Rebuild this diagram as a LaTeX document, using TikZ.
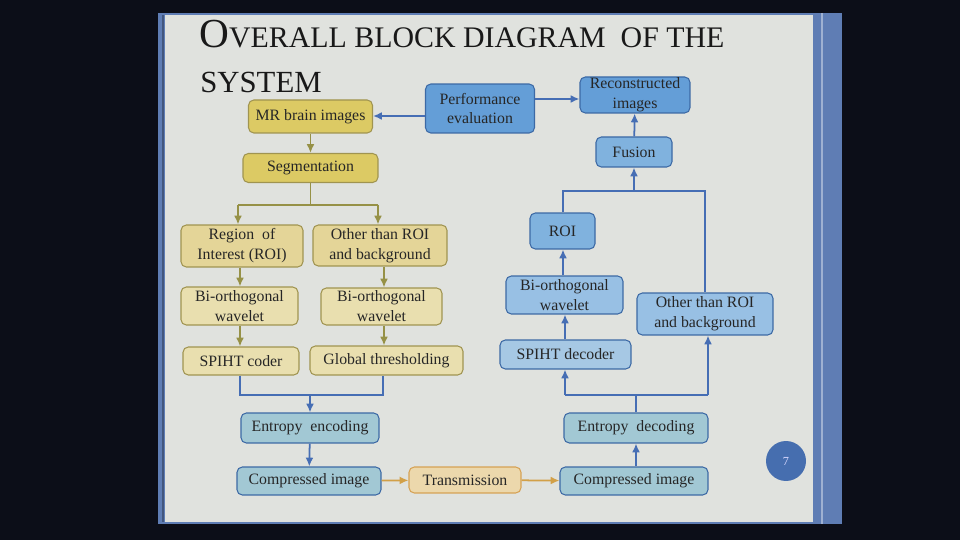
\documentclass[tikz,border=0pt]{standalone}
\usepackage{fontspec}
\setmainfont{Liberation Serif}
\usetikzlibrary{arrows.meta}
\definecolor{dark}{RGB}{12,14,24}
\definecolor{slide}{RGB}{224,226,222}
\definecolor{frameblue}{RGB}{95,125,180}
\definecolor{ystrong}{RGB}{220,202,100}
\definecolor{ytan}{RGB}{228,213,152}
\definecolor{ypale}{RGB}{233,223,175}
\definecolor{yborder}{RGB}{160,148,80}
\definecolor{bstrong}{RGB}{100,158,215}
\definecolor{bmid}{RGB}{128,178,222}
\definecolor{blight}{RGB}{152,192,228}
\definecolor{bpale}{RGB}{166,200,228}
\definecolor{bgrey}{RGB}{162,200,212}
\definecolor{bborder}{RGB}{60,105,165}
\definecolor{tfill}{RGB}{236,216,172}
\definecolor{tborder}{RGB}{214,162,84}
\definecolor{olive}{RGB}{150,145,70}
\definecolor{arrblue}{RGB}{70,110,180}
\definecolor{arrorange}{RGB}{210,160,72}
\definecolor{pagecirc}{RGB}{70,110,175}
\tikzset{
  box/.style={draw, rounded corners=3pt, line width=0.6pt, inner sep=0pt, align=center,
    font=\fontsize{9}{11.3}\selectfont, text=black!85},
  ybox/.style={box, draw=yborder},
  bbox/.style={box, draw=bborder},
  yarr/.style={draw=olive, line width=1pt, -{Latex[length=5pt,width=4.5pt]}},
  yline/.style={draw=olive, line width=1pt},
  barr/.style={draw=arrblue, line width=1pt, -{Latex[length=5pt,width=4.5pt]}},
  bline/.style={draw=arrblue, line width=1pt},
  oarr/.style={draw=arrorange, line width=1pt, -{Latex[length=5pt,width=4.5pt]}},
}
\begin{document}
\begin{tikzpicture}[x=0.02cm,y=-0.02cm]
\useasboundingbox (0,0) rectangle (960,540);
\fill[dark] (0,0) rectangle (960,540);
% slide
\fill[frameblue] (158,13) rectangle (842,524);
\fill[slide] (165,15) rectangle (813,522);
\draw[frameblue!70!black, line width=0.8pt] (163,15) -- (163,522);
\draw[frameblue!60!white, line width=1.2pt] (822,13) -- (822,524);
% title
\node[anchor=base west, inner sep=0pt, text=black!90] (title1) at (199,48)
  {{\fontsize{23.5}{26}\selectfont O}{\fontsize{17}{20}\selectfont VERALL BLOCK DIAGRAM\ \ OF THE}};
\node[anchor=base west, inner sep=0pt, text=black!90] (title2) at (200,93)
  {\fontsize{17.5}{20}\selectfont SYSTEM};
% left (yellow) column
\node[ybox, fill=ystrong, minimum width=2.48cm, minimum height=0.66cm] (mr) at (310.5,116.5) {MR brain images};
\node[ybox, fill=ystrong, minimum width=2.70cm, minimum height=0.58cm] (seg) at (310.5,168) {Segmentation};
\node[ybox, fill=ytan, minimum width=2.44cm, minimum height=0.84cm] (roiL) at (242,246) {Region\ \ of\\Interest\ (ROI)};
\node[ybox, fill=ytan, minimum width=2.68cm, minimum height=0.82cm] (othL) at (380,245.5) {Other than ROI\\and background};
\node[ybox, fill=ypale, minimum width=2.34cm, minimum height=0.76cm] (bowL) at (239.5,306) {Bi-orthogonal\\wavelet};
\node[ybox, fill=ypale, minimum width=2.42cm, minimum height=0.74cm] (bowM) at (381.5,306.5) {Bi-orthogonal\\wavelet};
\node[ybox, fill=ypale, minimum width=2.32cm, minimum height=0.56cm] (spiht) at (241,361) {SPIHT coder};
\node[ybox, fill=ypale, minimum width=3.06cm, minimum height=0.58cm] (glob) at (386.5,360.5) {Global\ thresholding};
% bottom row
\node[bbox, fill=bgrey, minimum width=2.76cm, minimum height=0.60cm] (ent) at (310,428) {Entropy\ \ encoding};
\node[bbox, fill=bgrey, minimum width=2.88cm, minimum height=0.56cm] (compL) at (309,481) {Compressed image};
\node[box, draw=tborder, fill=tfill, minimum width=2.24cm, minimum height=0.52cm] (trans) at (465,480) {Transmission};
\node[bbox, fill=bgrey, minimum width=2.96cm, minimum height=0.56cm] (compR) at (634,481) {Compressed image};
\node[bbox, fill=bgrey, minimum width=2.88cm, minimum height=0.60cm] (dec) at (636,428) {Entropy\ \ decoding};
% right (blue) column
\node[bbox, fill=bpale, minimum width=2.62cm, minimum height=0.58cm] (spihtd) at (565.5,354.5) {SPIHT decoder};
\node[bbox, fill=blight, minimum width=2.34cm, minimum height=0.76cm] (bowR) at (564.5,295) {Bi-orthogonal\\wavelet};
\node[bbox, fill=bmid, minimum width=1.30cm, minimum height=0.72cm] (roiR) at (562.5,231) {ROI};
\node[bbox, fill=blight, minimum width=2.72cm, minimum height=0.84cm] (othR) at (705,314) {Other than ROI\\and background};
\node[bbox, fill=bmid, minimum width=1.52cm, minimum height=0.60cm] (fusion) at (634,152) {Fusion};
\node[bbox, fill=bstrong, minimum width=2.18cm, minimum height=0.98cm] (perf) at (480,108.5) {Performance\\evaluation};
\node[bbox, fill=bstrong, minimum width=2.20cm, minimum height=0.72cm] (recon) at (635,95) {Reconstructed\\images};
% page number
\node[circle, fill=pagecirc, minimum size=0.8cm, inner sep=0pt, text=white!85!blue,
  font=\fontsize{7}{8}\selectfont] (page) at (786,461) {7};
% coordinates for connectors
\coordinate (sp) at (310.5,205);
\coordinate (spL) at (238,205);
\coordinate (spR) at (378,205);
\coordinate (mgL) at (240,395);
\coordinate (mgR) at (383,395);
\coordinate (mg) at (310,395);
\coordinate (dvL) at (565,395);
\coordinate (dvR) at (708,395);
\coordinate (dv) at (636,395);
\coordinate (fuL) at (563,191);
\coordinate (fuR) at (705,191);
\coordinate (fu) at (634,191);
% connectors: top
\draw[barr] (perf.west |- 0,116) -- (mr.east |- 0,116);
\draw[barr] (perf.east |- 0,99) -- (recon.west |- 0,99);
\draw[barr] (fusion) -- (recon);
% left column
\draw[yarr] (mr) -- (seg);
\draw[yline] (seg) -- (sp);
\draw[yline] (spL) -- (spR);
\draw[yarr] (spL) -- (spL |- roiL.north);
\draw[yarr] (spR) -- (spR |- othL.north);
\draw[yarr] (roiL.south -| 240,0) -- (bowL.north -| 240,0);
\draw[yarr] (othL.south -| 384,0) -- (bowM.north -| 384,0);
\draw[yarr] (bowL.south -| 240,0) -- (spiht.north -| 240,0);
\draw[yarr] (bowM.south -| 384,0) -- (glob.north -| 384,0);
% merge to entropy encoding
\draw[bline] (spiht.south -| mgL) -- (mgL) -- (mgR) -- (glob.south -| mgR);
\draw[barr] (mg) -- (ent);
\draw[barr] (ent) -- (compL);
\draw[oarr] (compL) -- (trans);
\draw[oarr] (trans) -- (compR);
\draw[barr] (compR.north -| dv) -- (dec.south -| dv);
% decoding split
\draw[bline] (dec.north -| dv) -- (dv);
\draw[bline] (dvL) -- (dvR);
\draw[barr] (dvL) -- (spihtd.south -| dvL);
\draw[barr] (dvR) -- (othR.south -| dvR);
\draw[barr] (spihtd.north -| 565,0) -- (bowR.south -| 565,0);
\draw[barr] (bowR.north -| 563,0) -- (roiR.south -| 563,0);
% fusion merge
\draw[bline] (roiR.north -| fuL) -- (fuL) -- (fuR) -- (othR.north -| fuR);
\draw[barr] (fu) -- (fusion);
\end{tikzpicture}
\end{document}
